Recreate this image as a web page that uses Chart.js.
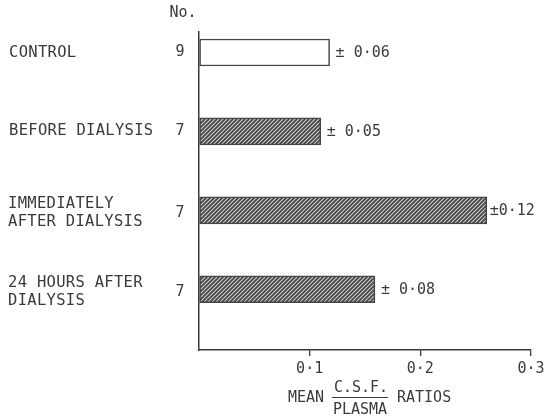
<!DOCTYPE html>
<html>
<head>
<meta charset="utf-8">
<script src="https://cdn.jsdelivr.net/npm/chart.js@4/dist/chart.umd.min.js"></script>
<style>
  html, body { margin: 0; padding: 0; background: #fff; }
  #wrap { width: 544px; height: 416px; position: relative; }
</style>
</head>
<body>
<div id="wrap"><canvas id="c" width="544" height="416"></canvas></div>
<script>
// ---- data ----
const categories = ['CONTROL', 'BEFORE DIALYSIS', 'IMMEDIATELY\nAFTER DIALYSIS', '24 HOURS AFTER\nDIALYSIS'];
const counts = ['9', '7', '7', '7'];
const means = [0.118, 0.11, 0.26, 0.159];
const semLabels = ['± 0·06', '± 0·05', '±0·12', '± 0·08'];
const hatched = [false, true, true, true];
const xTicks = [0, 0.1, 0.2, 0.3];

const INK = '#3a3a3a';
const FONT = '"DejaVu Sans Mono", "Liberation Mono", monospace';

function makeHatch() {
  const t = document.createElement('canvas');
  t.width = 4; t.height = 4;
  const g = t.getContext('2d');
  g.fillStyle = '#cfcfcf';
  g.fillRect(0, 0, 4, 4);
  g.strokeStyle = '#444444';
  g.lineWidth = 1.7;
  g.beginPath();
  g.moveTo(-1, 5); g.lineTo(5, -1);
  g.moveTo(-1, 1); g.lineTo(1, -1);
  g.moveTo(3, 5); g.lineTo(5, 3);
  g.stroke();
  return g.createPattern(t, 'repeat');
}

const ctx = document.getElementById('c').getContext('2d');
const hatch = makeHatch();

const textPlugin = {
  id: 'texts',
  afterDraw(chart) {
    const c = chart.ctx;
    const ys = chart.scales.y;
    const meta = chart.getDatasetMeta(0);
    c.save();
    c.fillStyle = INK;
    c.textBaseline = 'middle';
    c.font = '15px ' + FONT;
    // header
    c.textAlign = 'center';
    c.fillText('No.', 183, 13);
    categories.forEach((cat, i) => {
      const yc = ys.getPixelForValue(i);
      const lines = cat.split('\n');
      c.save();
      c.font = '15.5px ' + FONT;
      try { c.letterSpacing = '0.3px'; } catch (e) {}
      c.textAlign = 'left';
      if (lines.length === 1) {
        c.fillText(lines[0], 9, yc);
      } else {
        c.fillText(lines[0], 8, yc - 6);
        c.fillText(lines[1], 8, yc + 11.5);
      }
      c.restore();
      c.textAlign = 'center';
      c.fillText(counts[i], 180, yc + (lines.length > 1 ? 3 : 0));
      const bar = meta.data[i];
      c.textAlign = 'left';
      c.fillText(semLabels[i], bar.x + (semLabels[i].indexOf(' ') > 0 ? 6 : 3), yc + 1);
    });
    // x-axis title with fraction
    c.textAlign = 'right';
    c.fillText('MEAN', 324, 398);
    c.textAlign = 'center';
    c.fillText('C.S.F.', 361, 388);
    c.fillText('PLASMA', 360, 410);
    c.textAlign = 'left';
    c.fillText('RATIOS', 397, 398);
    c.strokeStyle = INK;
    c.lineWidth = 1.2;
    c.beginPath();
    c.moveTo(332, 397.5); c.lineTo(388, 397.5);
    c.stroke();
    c.restore();
  }
};

new Chart(ctx, {
  type: 'bar',
  data: {
    datasets: [{
      data: categories.map((c, i) => ({ x: means[i], y: i })),
      backgroundColor: hatched.map(h => h ? hatch : '#ffffff'),
      borderColor: '#454545',
      borderWidth: 1.5,
      borderSkipped: false,
      barThickness: 27
    }]
  },
  plugins: [textPlugin],
  options: {
    indexAxis: 'y',
    responsive: false,
    animation: false,
    events: [],
    layout: { padding: { left: 0, right: 13, top: 32, bottom: 0 } },
    plugins: { legend: { display: false }, tooltip: { enabled: false }, title: { display: false } },
    scales: {
      x: {
        type: 'linear',
        min: 0,
        max: 0.3,
        afterBuildTicks(s) { s.ticks = xTicks.map(v => ({ value: v })); },
        afterFit(s) { s.height = 66; s.paddingLeft = 0; s.paddingRight = 0; },
        grid: {
          drawOnChartArea: false,
          drawTicks: true,
          tickLength: 6,
          lineWidth: 1.3,
          color: c => (c.tick && c.tick.value === 0) ? 'rgba(0,0,0,0)' : INK
        },
        border: { display: true, color: INK, width: 1.5 },
        ticks: {
          padding: 4,
          color: INK,
          font: { family: FONT, size: 15 },
          maxRotation: 0,
          callback: v => v === 0 ? '' : v.toFixed(1).replace('.', '·')
        }
      },
      y: {
        type: 'linear',
        reverse: true,
        offset: false,
        min: -0.26,
        max: 3.77,
        afterFit(s) { s.width = 199; },
        grid: { display: false },
        border: { display: true, color: INK, width: 1.5 },
        ticks: { display: false }
      }
    }
  }
});
</script>
</body>
</html>
